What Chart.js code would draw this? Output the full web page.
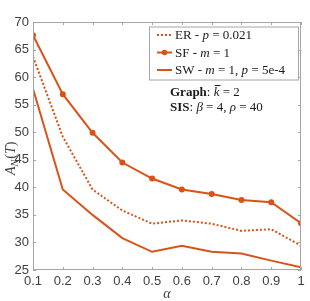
<!DOCTYPE html>
<html>
<head>
<meta charset="utf-8">
<script src="https://cdn.jsdelivr.net/npm/chart.js@4.4.0/dist/chart.umd.min.js"></script>
<style>
  html, body { margin: 0; padding: 0; background: #fff; }
  #wrap { width: 310px; height: 301px; }
</style>
</head>
<body>
<div id="wrap"><canvas id="myChart"></canvas></div>
<script>
const alphas = [0.1, 0.2, 0.3, 0.4, 0.5, 0.6, 0.7, 0.8, 0.9, 1.0];
const erValues = [63.7, 49.2, 39.6, 35.8, 33.4, 34.0, 33.4, 32.1, 32.4, 29.4];
const sfValues = [67.6, 56.9, 49.9, 44.5, 41.6, 39.6, 38.8, 37.7, 37.3, 33.5];
const swValues = [57.9, 39.6, 35.0, 30.8, 28.3, 29.4, 28.3, 28.0, 26.7, 25.5];
const xTicks = ["0.1", "0.2", "0.3", "0.4", "0.5", "0.6", "0.7", "0.8", "0.9", "1"];
const yTicks = [25, 30, 35, 40, 45, 50, 55, 60, 65, 70];

const orange = "#d95319";
const axisColor = "#a6a6a6";
const textColor = "#404040";

const toPts = (vals) => vals.map((v, i) => ({ x: alphas[i], y: v }));

// MATLAB-ish box with inward ticks, legend and text box
const boxPlugin = {
  id: "boxPlugin",
  afterDraw(chart) {
    const ctx = chart.ctx;
    const a = chart.chartArea;
    const xs = chart.scales.x;
    const ys = chart.scales.y;
    ctx.save();
    ctx.strokeStyle = axisColor;
    ctx.lineWidth = 1;
    ctx.strokeRect(a.left + 0.5, a.top + 0.5, a.right - a.left - 1, a.bottom - a.top - 1);
    ctx.beginPath();
    alphas.forEach((v) => {
      let px = Math.round(xs.getPixelForValue(v)) + 0.5;
      ctx.moveTo(px, a.bottom);
      ctx.lineTo(px, a.bottom - 3);
      ctx.moveTo(px, a.top);
      ctx.lineTo(px, a.top + 3);
    });
    yTicks.forEach((v) => {
      let py = Math.round(ys.getPixelForValue(v)) + 0.5;
      ctx.moveTo(a.left, py);
      ctx.lineTo(a.left + 3, py);
      ctx.moveTo(a.right, py);
      ctx.lineTo(a.right - 3, py);
    });
    ctx.stroke();

    // legend
    const lx = 149, ly = 26.5, lw = 149, lh = 53;
    ctx.fillStyle = "#fff";
    ctx.fillRect(lx, ly, lw, lh);
    ctx.strokeStyle = axisColor;
    ctx.strokeRect(lx + 0.5, ly + 0.5, lw, lh);
    const rows = [
      { y: 35, dash: [2, 2], marker: false, parts: [["ER - ", ""], ["p", "i"], [" = 0.021", ""]] },
      { y: 52.5, dash: [], marker: true, parts: [["SF - ", ""], ["m", "i"], [" = 1", ""]] },
      { y: 70, dash: [], marker: false, parts: [["SW - ", ""], ["m", "i"], [" = 1, ", ""], ["p", "i"], [" = 5e-4", ""]] },
    ];
    rows.forEach((r) => {
      ctx.strokeStyle = orange;
      ctx.lineWidth = 2;
      ctx.setLineDash(r.dash);
      ctx.beginPath();
      ctx.moveTo(157, r.y);
      ctx.lineTo(172, r.y);
      ctx.stroke();
      ctx.setLineDash([]);
      if (r.marker) {
        ctx.fillStyle = orange;
        ctx.beginPath();
        ctx.arc(164.5, r.y, 2.8, 0, Math.PI * 2);
        ctx.fill();
      }
      drawParts(ctx, r.parts, 175, r.y + 4, 13);
    });

    // annotation
    let kx = drawParts(ctx, [["Graph", "b"], [": ", ""]], 170, 96, 13);
    ctx.font = "italic 13px 'Liberation Serif'";
    let kw = ctx.measureText("k").width;
    drawParts(ctx, [["k", "i"], [" = 2", ""]], kx, 96, 13);
    ctx.strokeStyle = "#1a1a1a";
    ctx.lineWidth = 1;
    ctx.beginPath();
    ctx.moveTo(kx + 1, 85.5);
    ctx.lineTo(kx + kw + 1, 85.5);
    ctx.stroke();
    drawParts(ctx, [["SIS", "b"], [": ", ""], ["β", "i"], [" = 4, ", ""], ["ρ", "i"], [" = 40", ""]], 170, 111, 13);

    // y axis title A_N(T)
    ctx.translate(11, 151);
    ctx.rotate(-Math.PI / 2);
    ctx.fillStyle = textColor;
    ctx.textBaseline = "alphabetic";
    let x0 = -24;
    ctx.font = "italic 14px 'Liberation Serif'";
    ctx.fillText("A", x0, 4);
    x0 += ctx.measureText("A").width;
    ctx.font = "italic 10px 'Liberation Serif'";
    ctx.fillText("N", x0, 7);
    x0 += ctx.measureText("N").width + 1;
    ctx.font = "14px 'Liberation Serif'";
    ctx.fillText("(", x0, 4);
    x0 += ctx.measureText("(").width;
    ctx.font = "italic 14px 'Liberation Serif'";
    ctx.fillText("T", x0, 4);
    x0 += ctx.measureText("T").width;
    ctx.font = "14px 'Liberation Serif'";
    ctx.fillText(")", x0, 4);
    ctx.restore();

    // x axis title
    ctx.save();
    ctx.fillStyle = textColor;
    ctx.font = "italic 14px 'Liberation Serif'";
    ctx.textAlign = "center";
    ctx.fillText("α", (a.left + a.right) / 2, 298);
    ctx.restore();
  },
};

function drawParts(ctx, parts, x, y, size) {
  ctx.fillStyle = "#1a1a1a";
  ctx.textBaseline = "alphabetic";
  ctx.textAlign = "left";
  parts.forEach(([t, s]) => {
    let style = s === "i" ? "italic " : s === "b" ? "bold " : "";
    ctx.font = style + size + "px 'Liberation Serif'";
    ctx.fillText(t, x, y);
    x += ctx.measureText(t).width;
  });
  return x;
}

const ctx = document.getElementById("myChart").getContext("2d");
window.myChart = new Chart(ctx, {
  type: "line",
  data: {
    datasets: [
      {
        label: "ER - p = 0.021",
        data: toPts(erValues),
        borderColor: orange,
        borderWidth: 2,
        borderDash: [2, 2],
        pointRadius: 0,
      },
      {
        label: "SF - m = 1",
        data: toPts(sfValues),
        borderColor: orange,
        backgroundColor: orange,
        borderWidth: 2,
        pointRadius: 3,
        pointBorderWidth: 0,
      },
      {
        label: "SW - m = 1, p = 5e-4",
        data: toPts(swValues),
        borderColor: orange,
        borderWidth: 2,
        pointRadius: 0,
      },
    ],
  },
  options: {
    responsive: true,
    maintainAspectRatio: false,
    animation: false,
    elements: { line: { tension: 0 } },
    layout: { padding: { top: 22, right: 9, left: 0, bottom: 0 } },
    scales: {
      x: {
        type: "linear",
        min: 0.1,
        max: 1,
        afterBuildTicks: (s) => { s.ticks = alphas.map((v) => ({ value: v })); },
        afterFit: (s) => { s.height = 31; },
        grid: { display: false, drawTicks: false, tickLength: 0 },
        border: { display: false },
        ticks: {
          color: textColor,
          font: { family: "'Liberation Sans'", size: 13 },
          padding: 4,
          maxRotation: 0,
          callback: (v, i) => xTicks[i],
        },
      },
      y: {
        min: 25,
        max: 70,
        afterBuildTicks: (s) => { s.ticks = yTicks.map((v) => ({ value: v })); },
        afterFit: (s) => { s.width = 33; },
        grid: { display: false, drawTicks: false, tickLength: 0 },
        border: { display: false },
        ticks: {
          color: textColor,
          font: { family: "'Liberation Sans'", size: 13 },
          padding: 4,
        },
      },
    },
    plugins: {
      legend: { display: false },
      tooltip: { enabled: false },
    },
  },
  plugins: [boxPlugin],
});
</script>
</body>
</html>
